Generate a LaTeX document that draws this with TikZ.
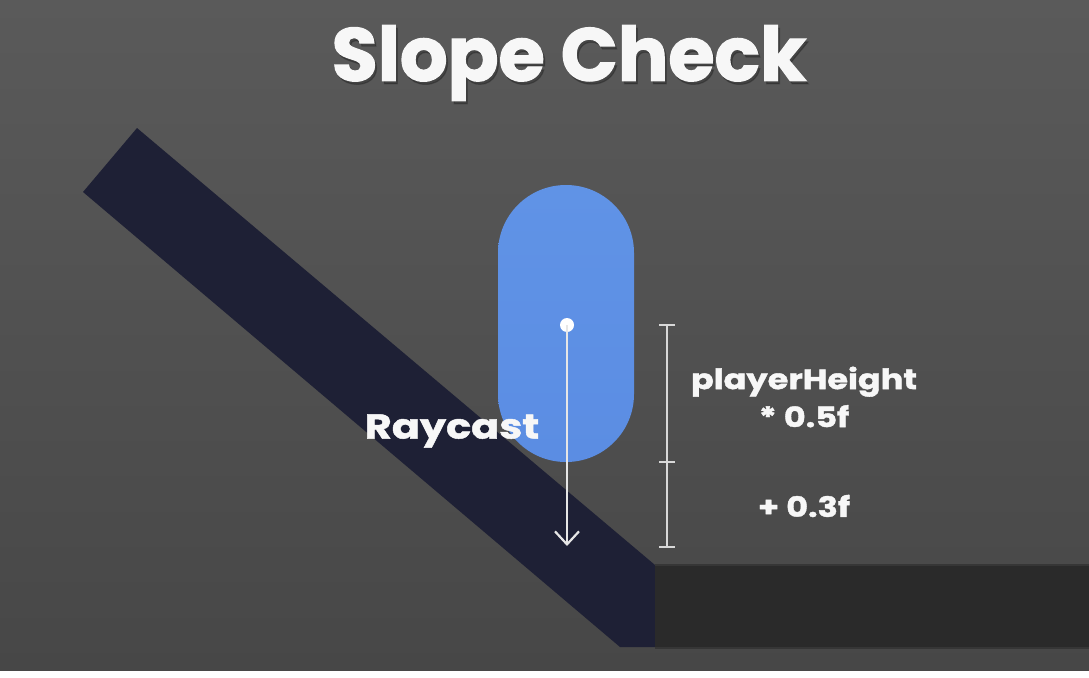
\documentclass[tikz,border=0pt]{standalone}
\usepackage{fontspec}
\setmainfont{Poppins}
\newfontfamily\titlefont{Poppins}[BoldFeatures={FakeBold=1.6}]
\newfontfamily\lblfont{Poppins}[BoldFeatures={FakeStretch=1.2,FakeBold=1.4}]
\usetikzlibrary{arrows.meta}
\definecolor{bgtop}{HTML}{5A5A5A}
\definecolor{bgbot}{HTML}{474747}
\definecolor{slopecol}{HTML}{1E2035}
\definecolor{floorcol}{HTML}{2A2A2A}
\definecolor{flooredge}{HTML}{363636}
\definecolor{capcol}{HTML}{5B8DE3}
\definecolor{captop}{HTML}{6093E6}
\definecolor{linecol}{HTML}{E6E6E6}
\definecolor{dimcol}{HTML}{D8D8D8}
\definecolor{txtcol}{HTML}{F7F7F7}
\begin{document}
\begin{tikzpicture}[x=1pt,y=-1pt,
  capsule/.style={top color=captop, bottom color=capcol, minimum width=136pt, minimum height=277pt, rounded corners=67.9pt, inner sep=0pt},
  dot/.style={circle, fill=white, minimum size=14pt, inner sep=0pt},
  ray/.style={draw=linecol, line width=2.2pt, -{Straight Barb[length=13pt,width=24pt,line width=2.2pt]}},
  dim/.style={draw=dimcol, line width=1.8pt},
  title/.style={font=\titlefont\bfseries\fontsize{75}{80}\selectfont, text=txtcol, inner sep=0pt},
  shadowtxt/.style={font=\titlefont\bfseries\fontsize{75}{80}\selectfont, text=black, opacity=0.22, inner sep=0pt},
  label/.style={font=\lblfont\bfseries\fontsize{28}{38}\selectfont, text=txtcol, inner sep=0pt, align=center},
  biglabel/.style={font=\lblfont\bfseries\fontsize{34.5}{40}\selectfont, text=txtcol, inner sep=0pt}
]
\useasboundingbox (0,0) rectangle (1089,677);
% background
\fill[white] (0,0) rectangle (1089,677);
\shade[top color=bgtop, bottom color=bgbot] (0,0) rectangle (1089,670);
% slope
\fill[slopecol] (137,128) -- (655,565) -- (655,647) -- (620,647) -- (83,192) -- cycle;
% floor
\fill[floorcol] (655,565) rectangle (1089,648);
\draw[flooredge, line width=1.5pt] (655,565) -- (1089,565);
\draw[flooredge, line width=1.5pt] (655,648) -- (1089,648);
% player capsule
\node[capsule] (player) at (566,323.5) {};
% title
\node[shadowtxt] (titleshadow) at (571,66) {Slope Check};
\node[title] (title) at (569,63) {Slope Check};
% labels
\node[biglabel] (raycastlbl) at (452,431) {Raycast};
\node[label] (heightlbl) at (804,397) {playerHeight\\* 0.5f};
\node[label] (offsetlbl) at (804,506) {+ 0.3f};
% ray
\node[dot] (origin) at (567,325) {};
\coordinate (hit) at (567,546);
\draw[ray] (origin.center) -- (hit);
% dimension
\coordinate (d1) at (667,325);
\coordinate (d2) at (667,462);
\coordinate (d3) at (667,547);
\draw[dim] (d1) -- (d3);
\draw[dim] ([xshift=-8pt]d1) -- ([xshift=8pt]d1);
\draw[dim] ([xshift=-8pt]d2) -- ([xshift=8pt]d2);
\draw[dim] ([xshift=-8pt]d3) -- ([xshift=8pt]d3);
\end{tikzpicture}
\end{document}
